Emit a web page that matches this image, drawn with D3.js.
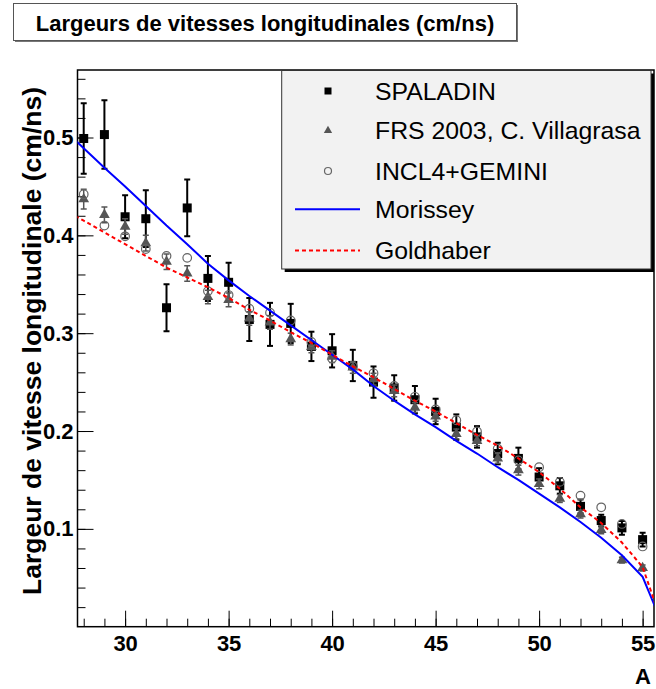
<!DOCTYPE html>
<html><head><meta charset="utf-8">
<script src="https://cdn.jsdelivr.net/npm/d3@7"></script>
<style>
body{margin:0;background:#fff}
svg{display:block}
text{font-family:"Liberation Sans",Arial,Helvetica,sans-serif}
</style>
</head><body>
<svg id="c" width="656" height="689"></svg>
<script>
// ---------------- data ----------------
const massNumbers = [28,29,30,31,32,33,34,35,36,37,38,39,40,41,42,43,44,45,46,47,48,49,50,51,52,53,54,55];
const spaladin    = [0.499,0.503,0.419,0.417,0.326,0.428,0.356,0.352,0.314,0.309,0.310,0.2865,0.282,0.267,0.250,0.244,0.232,0.220,0.204,0.194,0.177,0.172,0.153,0.144,0.123,0.1085,0.101,0.089];
const spaladinErr = [0.036,0.035,0.022,0.029,0.024,0.029,0.023,0.020,0.022,0.022,0.020,0.015,0.017,0.016,0.016,0.013,0.014,0.013,0.013,0.011,0.011,0.011,0.009,0.008,0.007,0.006,0.007,0.007];
const frs         = [0.437,0.421,0.409,0.392,0.373,0.361,0.337,0.334,0.315,0.311,0.294,0.286,0.276,0.265,0.253,0.241,0.224,0.215,0.197,0.190,0.172,0.160,0.146,0.131,0.115,0.099,0.068,0.060];
const frsErr      = [0.010,0.008,0.008,0.008,0.008,0.008,0.007,0.007,0.007,0.007,0.006,0.006,0.006,0.006,0.006,0.006,0.005,0.005,0.005,0.005,0.005,0.005,0.005,0.004,0.004,0.004,0.003,0.003];
const incl        = [0.442,0.410,0.399,0.386,0.379,0.377,0.343,0.339,0.325,0.321,0.313,0.291,0.274,0.266,0.259,0.246,0.235,0.222,0.211,0.1995,0.182,0.170,0.163,0.148,0.134,0.122,0.105,0.082];
const curveA      = [27,28,29,30,31,32,33,34,35,36,37,38,39,40,41,42,43,44,45,46,47,48,49,50,51,52,53,54,55,56];
const morissey    = [0.509,0.489,0.469,0.450,0.430,0.410,0.391,0.371,0.354,0.338,0.323,0.308,0.293,0.278,0.263,0.246,0.231,0.217,0.204,0.190,0.177,0.163,0.150,0.136,0.122,0.107,0.091,0.073,0.051,0.0];
const goldhaber   = [0.427,0.415,0.403,0.391,0.379,0.367,0.357,0.347,0.336,0.324,0.313,0.301,0.290,0.278,0.266,0.255,0.243,0.231,0.220,0.208,0.196,0.185,0.172,0.158,0.141,0.122,0.106,0.086,0.061,0.0];
const xTicks = [30,35,40,45,50,55];
const yTicks = [0.1,0.2,0.3,0.4,0.5];
const legendLabels = ["SPALADIN","FRS 2003, C. Villagrasa","INCL4+GEMINI","Morissey","Goldhaber"];
const titleText = "Largeurs de vitesses longitudinales (cm/ns)";
const yTitle = "Largeur de vitesse longitudinale (cm/ns)";
const xTitle = "A";

// ---------------- layout ----------------
const svg = d3.select("#c");
const F = {left:77.5, right:654, top:70, bottom:626.7};
const x = d3.scaleLinear().domain([27.7,55.55]).range([F.left,F.right]);
const y = d3.scaleLinear().domain([0,0.569]).range([F.bottom,F.top]);

svg.append("defs").append("clipPath").attr("id","clip")
  .append("rect").attr("x",F.left).attr("y",F.top).attr("width",F.right-F.left).attr("height",F.bottom-F.top);

// title box
svg.append("rect").attr("x",15).attr("y",5).attr("width",503).attr("height",37).attr("fill","#777");
svg.append("rect").attr("x",13.5).attr("y",3.5).attr("width",503).attr("height",37).attr("fill","#fff").attr("stroke","#555").attr("stroke-width",1);
svg.append("text").attr("x",265).attr("y",31).attr("text-anchor","middle")
  .attr("font-size",22).attr("font-weight","bold").attr("fill","#000").text(titleText);

// axes
const xMinor = d3.range(28,56,1);
svg.append("g").attr("transform",`translate(0,${F.bottom})`)
  .call(d3.axisBottom(x).tickValues(xMinor).tickSize(-8).tickFormat(""))
  .call(g=>g.select(".domain").remove());
svg.append("g").attr("transform",`translate(0,${F.bottom})`)
  .call(d3.axisBottom(x).tickValues(xTicks).tickSize(-16).tickPadding(9).tickFormat(d3.format("d")))
  .call(g=>g.select(".domain").remove())
  .call(g=>g.selectAll("text").attr("font-size",22).attr("font-weight","bold").attr("fill","#000").attr("font-family","Liberation Sans, Arial, sans-serif"));

const yMinor = d3.range(0.02,0.569,0.02);
svg.append("g").attr("transform",`translate(${F.left},0)`)
  .call(d3.axisLeft(y).tickValues(yMinor).tickSize(-8).tickFormat(""))
  .call(g=>g.select(".domain").remove());
svg.append("g").attr("transform",`translate(${F.left},0)`)
  .call(d3.axisLeft(y).tickValues(yTicks).tickSize(-16).tickPadding(4).tickFormat(d3.format(".1f")))
  .call(g=>g.select(".domain").remove())
  .call(g=>g.selectAll("text").attr("font-size",22).attr("font-weight","bold").attr("fill","#000").attr("font-family","Liberation Sans, Arial, sans-serif"));

// axis titles
svg.append("text").attr("transform","translate(32,341) rotate(-90)").attr("text-anchor","middle")
  .attr("dy","0.35em").attr("font-size",26.5).attr("font-weight","bold").text(yTitle);
svg.append("text").attr("x",651).attr("y",684).attr("text-anchor","end")
  .attr("font-size",22).attr("font-weight","bold").text(xTitle);

// frame
svg.append("rect").attr("x",F.left).attr("y",F.top).attr("width",F.right-F.left).attr("height",F.bottom-F.top)
  .attr("fill","none").attr("stroke","#000").attr("stroke-width",1.5);

const plot = svg.append("g").attr("clip-path","url(#clip)");

const sp = massNumbers.map((a,i)=>({a,v:spaladin[i],e:spaladinErr[i]}));
const fr = massNumbers.map((a,i)=>({a,v:frs[i],e:frsErr[i]}));
const ic = massNumbers.map((a,i)=>({a,v:incl[i]}));

function errorBars(g,data,color,w){
  const gg = g.append("g").attr("stroke",color).attr("stroke-width",w);
  data.forEach(d=>{
    gg.append("line").attr("x1",x(d.a)).attr("x2",x(d.a)).attr("y1",y(d.v-d.e)).attr("y2",y(d.v+d.e));
    gg.append("line").attr("x1",x(d.a)-3).attr("x2",x(d.a)+3).attr("y1",y(d.v-d.e)).attr("y2",y(d.v-d.e));
    gg.append("line").attr("x1",x(d.a)-3).attr("x2",x(d.a)+3).attr("y1",y(d.v+d.e)).attr("y2",y(d.v+d.e));
  });
}
errorBars(plot,sp,"#000",2);
plot.append("g").selectAll("rect").data(sp).join("rect")
  .attr("x",d=>x(d.a)-4.5).attr("y",d=>y(d.v)-4.5).attr("width",9).attr("height",9).attr("fill","#000");

errorBars(plot,fr,"#555",1.5);
const tri = d3.symbol().type(d3.symbolTriangle).size(50);
plot.append("g").selectAll("path").data(fr).join("path")
  .attr("d",tri).attr("transform",d=>`translate(${x(d.a)},${y(d.v)})`).attr("fill","#555");

plot.append("g").selectAll("circle").data(ic).join("circle")
  .attr("cx",d=>x(d.a)).attr("cy",d=>y(d.v)).attr("r",4.3).attr("fill","none").attr("stroke","#666").attr("stroke-width",1.2);

// curves
const mor = curveA.map((a,i)=>[a,morissey[i]]);
const gol = curveA.map((a,i)=>[a,goldhaber[i]]);
const line = d3.line().x(d=>x(d[0])).y(d=>y(d[1]));
plot.append("path").attr("d",line(mor)).attr("fill","none").attr("stroke","#0000ff").attr("stroke-width",2);
plot.append("path").attr("d",line(gol)).attr("fill","none").attr("stroke","#ff0000").attr("stroke-width",2).attr("stroke-dasharray","4,3");

// legend
const L = {x:281.7, y:70.5, w:369.3, h:198.5};
svg.append("rect").attr("x",L.x+3).attr("y",L.y+3).attr("width",L.w).attr("height",L.h).attr("fill","#000");
svg.append("rect").attr("x",L.x).attr("y",L.y).attr("width",L.w).attr("height",L.h).attr("fill","#f2f2f2").attr("stroke","#333").attr("stroke-width",1);
const rowY = [91,130.5,171,209.3,250.5];
const lg = svg.append("g");
legendLabels.forEach((t,i)=>{
  lg.append("text").attr("x",375).attr("y",rowY[i]).attr("dy","0.36em").attr("font-size",24.8).attr("fill","#000").text(t);
});
lg.append("rect").attr("x",328-3.5).attr("y",rowY[0]-3.5).attr("width",7).attr("height",7).attr("fill","#000");
lg.append("path").attr("d",d3.symbol().type(d3.symbolTriangle).size(30)).attr("transform",`translate(328,${rowY[1]})`).attr("fill","#555");
lg.append("circle").attr("cx",328).attr("cy",rowY[2]).attr("r",3.5).attr("fill","none").attr("stroke","#666").attr("stroke-width",1.2);
lg.append("line").attr("x1",295).attr("x2",360).attr("y1",rowY[3]).attr("y2",rowY[3]).attr("stroke","#0000ff").attr("stroke-width",2);
lg.append("line").attr("x1",295).attr("x2",360).attr("y1",rowY[4]).attr("y2",rowY[4]).attr("stroke","#ff0000").attr("stroke-width",2).attr("stroke-dasharray","4,3");
</script>
</body></html>
